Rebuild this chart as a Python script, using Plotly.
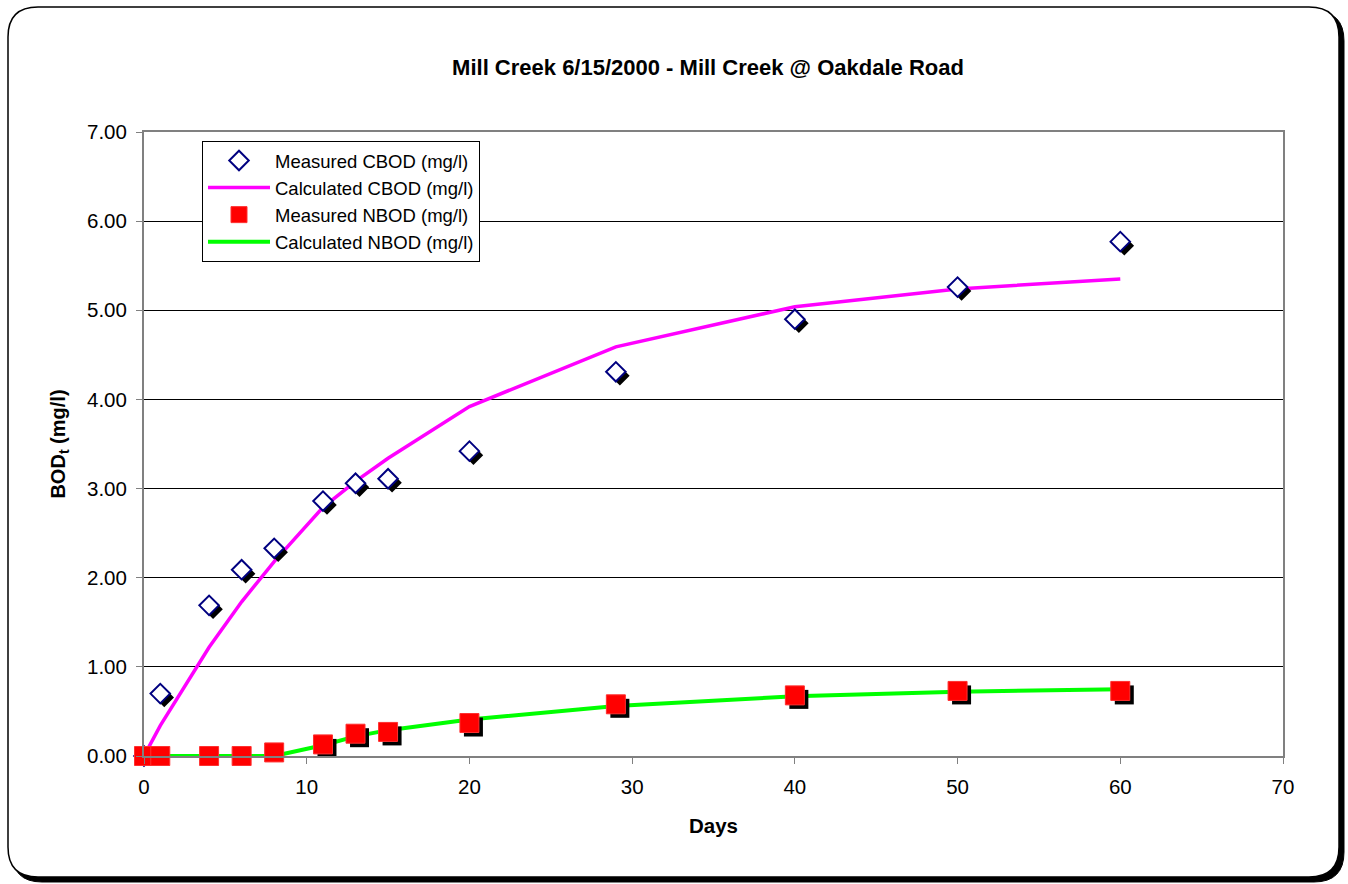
import plotly.graph_objects as go

# ---- data ----
days = [0, 1, 4, 6, 8, 11, 13, 15, 20, 29, 40, 50, 60]
measured_cbod = [0.00, 0.70, 1.69, 2.09, 2.33, 2.86, 3.06, 3.11, 3.42, 4.31, 4.90, 5.26, 5.77]
calculated_cbod = [0.00, 0.34, 1.22, 1.73, 2.18, 2.79, 3.08, 3.34, 3.92, 4.59, 5.04, 5.24, 5.35]
measured_nbod = [0.00, 0.00, 0.00, 0.00, 0.04, 0.13, 0.25, 0.27, 0.37, 0.58, 0.68, 0.73, 0.73]
calculated_nbod = [0.00, 0.00, 0.00, 0.00, 0.00, 0.12, 0.22, 0.29, 0.41, 0.56, 0.67, 0.72, 0.75]
x_ticks = [0, 10, 20, 30, 40, 50, 60, 70]
y_ticks = [0, 1, 2, 3, 4, 5, 6, 7]

W, H = 1348, 884
L, R, T, B = 144, 1283, 132, 756  # plot area in pixels
X_RANGE = [0, 70]
Y_RANGE = [0, 7]
FONT = "Arial, Liberation Sans, sans-serif"

# pixel offsets for Excel-like marker shadow, converted to data units
dx = 4 * (X_RANGE[1] - X_RANGE[0]) / (R - L)
dy = 4 * (Y_RANGE[1] - Y_RANGE[0]) / (B - T)


def px(x):
    return (x - L) / (R - L)


def py(y):
    return (B - y) / (B - T)


def rounded(l, t, r_, b, rad):
    pts = [
        ("M", [(l + rad, t)]),
        ("L", [(r_ - rad, t)]),
        ("Q", [(r_, t), (r_, t + rad)]),
        ("L", [(r_, b - rad)]),
        ("Q", [(r_, b), (r_ - rad, b)]),
        ("L", [(l + rad, b)]),
        ("Q", [(l, b), (l, b - rad)]),
        ("L", [(l, t + rad)]),
        ("Q", [(l, t), (l + rad, t)]),
    ]
    s = ""
    for cmd, ps in pts:
        s += cmd + " " + " ".join(f"{px(a):.5f},{py(c):.5f}" for a, c in ps) + " "
    return s + "Z"


fig = go.Figure()

# lines first (drawn beneath markers)
fig.add_trace(go.Scatter(x=days, y=calculated_cbod, mode="lines", name="Calculated CBOD (mg/l)",
                         line=dict(color="#FF00FF", width=3.5), legendrank=2, cliponaxis=False))
fig.add_trace(go.Scatter(x=days, y=calculated_nbod, mode="lines", name="Calculated NBOD (mg/l)",
                         line=dict(color="#00FF00", width=4), legendrank=4, cliponaxis=False))

# shadows
fig.add_trace(go.Scatter(x=[d + dx for d in days], y=[v - dy for v in measured_cbod], mode="markers",
                         marker=dict(symbol="diamond", size=15, color="black"), showlegend=False,
                         hoverinfo="skip", cliponaxis=False))
fig.add_trace(go.Scatter(x=days, y=measured_cbod, mode="markers", name="Measured CBOD (mg/l)",
                         marker=dict(symbol="diamond", size=15, color="white",
                                     line=dict(color="#000080", width=2)),
                         legendrank=1, cliponaxis=False))
fig.add_trace(go.Scatter(x=[d + dx for d in days], y=[v - dy for v in measured_nbod], mode="markers",
                         marker=dict(symbol="square", size=19, color="black"), showlegend=False,
                         hoverinfo="skip", cliponaxis=False))
fig.add_trace(go.Scatter(x=days, y=measured_nbod, mode="markers", name="Measured NBOD (mg/l)",
                         marker=dict(symbol="square", size=19, color="#FF0000",
                                     line=dict(color="#FF3030", width=1)),
                         legendrank=3, cliponaxis=False))

shapes = [
    dict(type="path", xref="paper", yref="paper", path=rounded(12, 11, 1344, 882, 30),
         fillcolor="black", line=dict(color="black", width=1), layer="below"),
    dict(type="path", xref="paper", yref="paper", path=rounded(8, 7, 1339, 877, 30),
         fillcolor="white", line=dict(color="black", width=1.5), layer="below"),
]

fig.update_layout(
    width=W, height=H,
    margin=dict(l=L, r=W - R, t=T, b=H - B),
    paper_bgcolor="white",
    plot_bgcolor="white",
    font=dict(family=FONT, color="black", size=20),
    title=dict(text="<b>Mill Creek 6/15/2000 - Mill Creek @ Oakdale Road</b>",
               x=px(708), xanchor="center", xref="paper", y=1 - 67 / H, yanchor="middle",
               font=dict(size=22)),
    shapes=shapes,
    showlegend=True,
    legend=dict(x=px(202), y=py(141), xanchor="left", yanchor="top",
                bgcolor="white", bordercolor="black", borderwidth=1,
                font=dict(size=18.5), itemwidth=62, tracegroupgap=0,
                traceorder="normal"),
)

fig.update_xaxes(range=X_RANGE, tickvals=x_ticks, ticks="outside", ticklen=6, tickcolor="#808080",
                 showline=True, linecolor="#808080", linewidth=2, mirror=True,
                 showgrid=False, zeroline=False, ticklabelstandoff=5,
                 title=dict(text="<b>Days</b>", font=dict(size=20.5), standoff=22),
                 tickfont=dict(size=20.5))
fig.update_yaxes(range=Y_RANGE, tickvals=y_ticks, tickformat=".2f", ticks="outside", ticklen=6,
                 tickcolor="#808080", showline=True, linecolor="#808080", linewidth=2, mirror=True,
                 showgrid=True, gridcolor="black", gridwidth=1, zeroline=False, ticklabelstandoff=5,
                 title=dict(text="<b>BOD<sub>t</sub> (mg/l)</b>", font=dict(size=20), standoff=16),
                 tickfont=dict(size=20.5))

fig.write_html("out.html")
